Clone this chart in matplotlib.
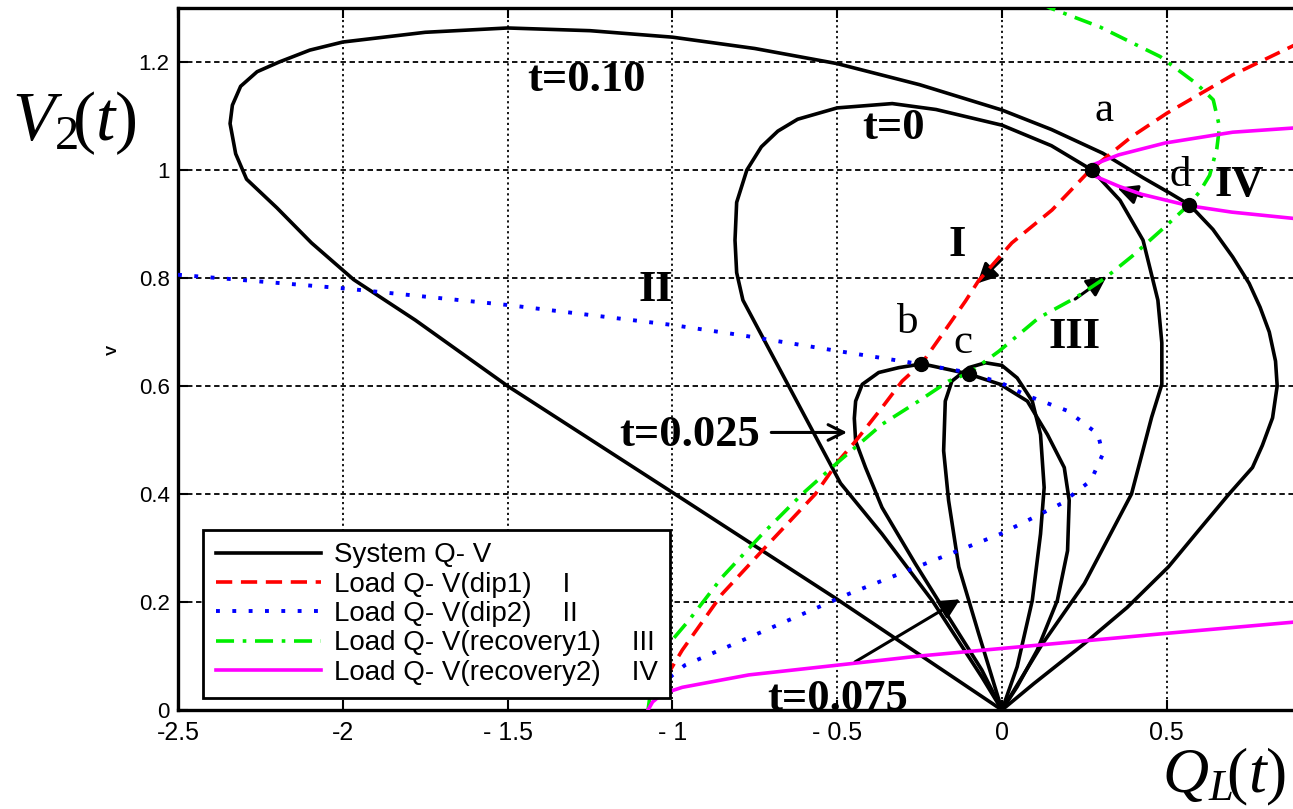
import matplotlib
matplotlib.use('Agg')
import matplotlib.pyplot as plt
import numpy as np

plt.rcParams['mathtext.fontset'] = 'custom'
plt.rcParams['mathtext.rm'] = 'Liberation Serif'
plt.rcParams['mathtext.it'] = 'Liberation Serif:italic'

# system Q-V loops (Q_L, V_2) at the four time instants
q_t0 = [0, -0.061, -0.212, -0.364, -0.49, -0.786, -0.805, -0.81, -0.805, -0.774, -0.73, -0.68, -0.62, -0.5,
        -0.333, -0.2, 0, 0.15, 0.273, 0.358, 0.428, 0.473, 0.485, 0.485, 0.454, 0.393, 0.25, 0.12, 0]
v_t0 = [0, 0.061, 0.203, 0.326, 0.42, 0.759, 0.81, 0.87, 0.94, 1.0, 1.043, 1.072, 1.094, 1.115,
        1.123, 1.112, 1.083, 1.045, 1.0, 0.944, 0.87, 0.759, 0.68, 0.603, 0.542, 0.4, 0.234, 0.12, 0]

q_t025 = [0, -0.061, -0.162, -0.263, -0.364, -0.414, -0.444, -0.448, -0.444, -0.424, -0.374, -0.313,
          -0.242, -0.158, -0.1, -0.005, 0.077, 0.138, 0.189, 0.204, 0.199, 0.168, 0.107, 0.046, 0]
v_t025 = [0, 0.074, 0.172, 0.271, 0.375, 0.449, 0.498, 0.54, 0.572, 0.603, 0.625, 0.634,
          0.641, 0.63, 0.622, 0.603, 0.572, 0.51, 0.449, 0.388, 0.295, 0.203, 0.111, 0.043, 0]

q_t075 = [0, -0.071, -0.131, -0.162, -0.177, -0.172, -0.152, -0.101, -0.05, 0.0, 0.046, 0.092,
          0.117, 0.128, 0.117, 0.092, 0.046, 0]
v_t075 = [0, 0.142, 0.265, 0.388, 0.48, 0.572, 0.609, 0.634, 0.643, 0.638, 0.615, 0.572,
          0.51, 0.412, 0.326, 0.203, 0.08, 0]

q_t10 = [0, -0.5, -1.0, -1.5, -1.78, -1.967, -2.095, -2.2, -2.292, -2.325, -2.342, -2.335, -2.31, -2.26,
         -2.193, -2.1, -2.0, -1.75, -1.5, -1.25, -1.0, -0.75, -0.5, -0.25, 0, 0.15, 0.306, 0.43, 0.51, 0.57,
         0.64, 0.70, 0.75, 0.783, 0.811, 0.83, 0.835, 0.821, 0.79, 0.76, 0.689, 0.6, 0.505, 0.38, 0.25,
         0.097, 0]
v_t10 = [0, 0.205, 0.403, 0.6, 0.722, 0.797, 0.865, 0.93, 0.983, 1.03, 1.086, 1.12, 1.155, 1.182,
         1.2, 1.222, 1.237, 1.255, 1.263, 1.258, 1.246, 1.225, 1.197, 1.158, 1.111, 1.075, 1.031, 0.985,
         0.957, 0.935, 0.89, 0.839, 0.79, 0.746, 0.70, 0.646, 0.60, 0.541, 0.49, 0.449, 0.4, 0.335, 0.265,
         0.19, 0.123, 0.049, 0]

# load characteristics
q_dip1 = [-1.02, -0.97, -0.849, -0.717, -0.566, -0.495, -0.444, -0.364, -0.303, -0.242, -0.182, -0.111,
          -0.071, 0.03, 0.152, 0.268, 0.394, 0.5, 0.70, 0.89]
v_dip1 = [0.06, 0.111, 0.215, 0.302, 0.4, 0.462, 0.498, 0.56, 0.609, 0.643, 0.695, 0.757,
          0.795, 0.865, 0.926, 1.0, 1.062, 1.105, 1.176, 1.232]

q_dip2 = [-2.5, -2.0, -1.5, -1.0, -0.79, -0.5, -0.263, -0.101, 0.0, 0.077, 0.199, 0.291, 0.306, 0.27,
          0.179, 0.091, -0.005, -0.158, -0.465, -0.765, -0.962, -1.05]
v_dip2 = [0.806, 0.781, 0.75, 0.713, 0.694, 0.665, 0.642, 0.625, 0.605, 0.582, 0.554, 0.511, 0.474, 0.425,
          0.382, 0.355, 0.326, 0.289, 0.215, 0.135, 0.083, 0.04]

q_rec1 = [-1.074, -1.06, -1.0, -0.95, -0.849, -0.727, -0.606, -0.505, -0.364, -0.253, -0.162, -0.1, -0.01,
          0.111, 0.222, 0.313, 0.394, 0.495, 0.566, 0.60, 0.63, 0.652, 0.66, 0.641, 0.59, 0.48, 0.297, 0.146, 0.05]
v_rec1 = [0.0, 0.06, 0.13, 0.166, 0.246, 0.326, 0.4, 0.455, 0.529, 0.572, 0.609, 0.624, 0.664,
          0.726, 0.763, 0.8, 0.84, 0.895, 0.935, 0.96, 0.99, 1.04, 1.08, 1.13, 1.16, 1.21, 1.265, 1.30, 1.33]

q_rec2 = [0.89, 0.70, 0.495, 0.354, 0.273, 0.268, 0.273, 0.354, 0.424, 0.566, 0.697, 0.89, np.nan,
          -1.074, -1.06, -1.03, -0.97, -0.9, -0.768, -0.5, -0.25, 0, 0.25, 0.5, 0.89]
v_rec2 = [1.078, 1.07, 1.05, 1.028, 1.009, 1.0, 0.991, 0.97, 0.955, 0.934, 0.922, 0.91, np.nan,
          0.0, 0.015, 0.03, 0.042, 0.05, 0.065, 0.083, 0.1, 0.114, 0.128, 0.142, 0.163]

# operating points a, b, c, d
pt_q = [0.273, -0.245, -0.1, 0.568]
pt_v = [1.0, 0.641, 0.623, 0.935]

xt = [-2.5, -2, -1.5, -1, -0.5, 0, 0.5]
xt_labels = ['-2.5', '-2', '- 1.5', '- 1', '- 0.5', '0', '0.5']
yt = [0, 0.2, 0.4, 0.6, 0.8, 1.0, 1.2]
yt_labels = ['0', '0.2', '0.4', '0.6', '0.8', '1', '1.2']

W, H = 1293, 809
fig = plt.figure(figsize=(W / 100, H / 100), dpi=100)
ax = fig.add_axes([178 / W, 99 / H, 1 - 178 / W, 702 / H])

lw_sys = 2.6
ax.plot(q_t0, v_t0, color='k', lw=lw_sys, label='System Q- V', zorder=3)
ax.plot(q_t025, v_t025, color='k', lw=lw_sys, zorder=3)
ax.plot(q_t075, v_t075, color='k', lw=lw_sys, zorder=3)
ax.plot(q_t10, v_t10, color='k', lw=lw_sys, zorder=3)
ax.plot(q_dip1, v_dip1, color='#ff0000', lw=2.6, ls=(0, (4.5, 2.4)),
        label='Load Q- V(dip1)    I', zorder=4)
ax.plot(q_dip2, v_dip2, color='#0000ff', lw=2.8, ls=(0, (1, 3.2)),
        label='Load Q- V(dip2)    II', zorder=4)
ax.plot(q_rec1, v_rec1, color='#00ee00', lw=2.6, ls=(0, (5, 2.4, 1, 2.4)),
        label='Load Q- V(recovery1)    III', zorder=4)
ax.plot(q_rec2, v_rec2, color='#ff00ff', lw=2.6, label='Load Q- V(recovery2)    IV', zorder=4)
ax.plot(pt_q, pt_v, 'o', color='k', ms=10, zorder=6)

ax.set_xlim(-2.5, 0.883)
ax.set_ylim(0, 1.3)
ax.set_xticks(xt)
ax.set_xticklabels(xt_labels, family='Liberation Sans', fontsize=18)
ax.set_yticks(yt)
ax.set_yticklabels(yt_labels, family='Liberation Sans', fontsize=16)
ax.tick_params(direction='in', length=7, width=1.5, top=True, pad=8)
ax.tick_params(axis='y', pad=6)
ax.xaxis.grid(True, color='k', lw=1.3, ls=(0, (1.2, 1.8)))
ax.yaxis.grid(True, color='k', lw=1.3, ls=(0, (3, 2)))
for side in ['left', 'bottom', 'top']:
    ax.spines[side].set_linewidth(2.4)
ax.spines['right'].set_visible(False)

serif = 'Liberation Serif'
bold_kw = dict(family=serif, fontweight='bold', fontsize=32, ha='center', va='center', zorder=7)
ax.text(-1.26, 1.167, 't=0.10', **bold_kw)
ax.text(-0.33, 1.078, 't=0', **bold_kw)
ax.text(-0.947, 0.509, 't=0.025', **bold_kw)
ax.text(-0.5, 0.0, 't=0.075', family=serif, fontweight='bold', fontsize=32, ha='center',
        va='baseline', zorder=2)
ax.text(-0.137, 0.861, 'I', **bold_kw)
ax.text(-1.05, 0.778, 'II', **bold_kw)
ax.text(0.22, 0.69, 'III', **bold_kw)
ax.text(0.72, 0.972, 'IV', **bold_kw)

let_kw = dict(family=serif, fontsize=31, ha='center', va='center', zorder=7)
ax.text(0.31, 1.11, 'a', **let_kw)
ax.text(-0.285, 0.718, 'b', **let_kw)
ax.text(-0.118, 0.68, 'c', **let_kw)
ax.text(0.54, 0.99, 'd', **let_kw)

# direction arrows
fill_arrow = dict(arrowstyle='-|>', color='k', lw=2.2, mutation_scale=30, shrinkA=0, shrinkB=0)
ax.annotate('', xy=(-0.075, 0.79), xytext=(0.0, 0.835), arrowprops=fill_arrow)
ax.annotate('', xy=(0.318, 0.803), xytext=(0.222, 0.761), arrowprops=fill_arrow)
ax.annotate('', xy=(0.35, 0.967), xytext=(0.424, 0.951), arrowprops=fill_arrow)
ax.annotate('', xy=(-0.127, 0.205), xytext=(-0.446, 0.089), arrowprops=fill_arrow)
ax.annotate('', xy=(-0.47, 0.514), xytext=(-0.7, 0.514),
            arrowprops=dict(arrowstyle='->', color='k', lw=2.2, mutation_scale=28, shrinkA=0, shrinkB=0))

leg = ax.legend(loc='lower left', bbox_to_anchor=(0.0225, 0.017),
                prop={'family': 'Liberation Sans', 'size': 20},
                handlelength=3.8, handletextpad=0.45, labelspacing=0.12, borderpad=0.45,
                fancybox=False, framealpha=1, edgecolor='k', borderaxespad=0)
leg.get_frame().set_linewidth(2.0)
leg.set_zorder(10)

# axis titles in the corners
fig.text(12 / W, 1 - 140 / H, r'$V_2\!(t)$', fontsize=50, ha='left', va='baseline')
fig.text(1162 / W, 1 / H, r'$Q_L\!(t)$', fontsize=46, ha='left', va='bottom')

fig.text(113 / W, 1 - 350 / H, 'V', family='Liberation Sans', fontsize=11, fontweight='bold',
         rotation=90, ha='center', va='center')

fig.savefig('out.png', dpi=100)
